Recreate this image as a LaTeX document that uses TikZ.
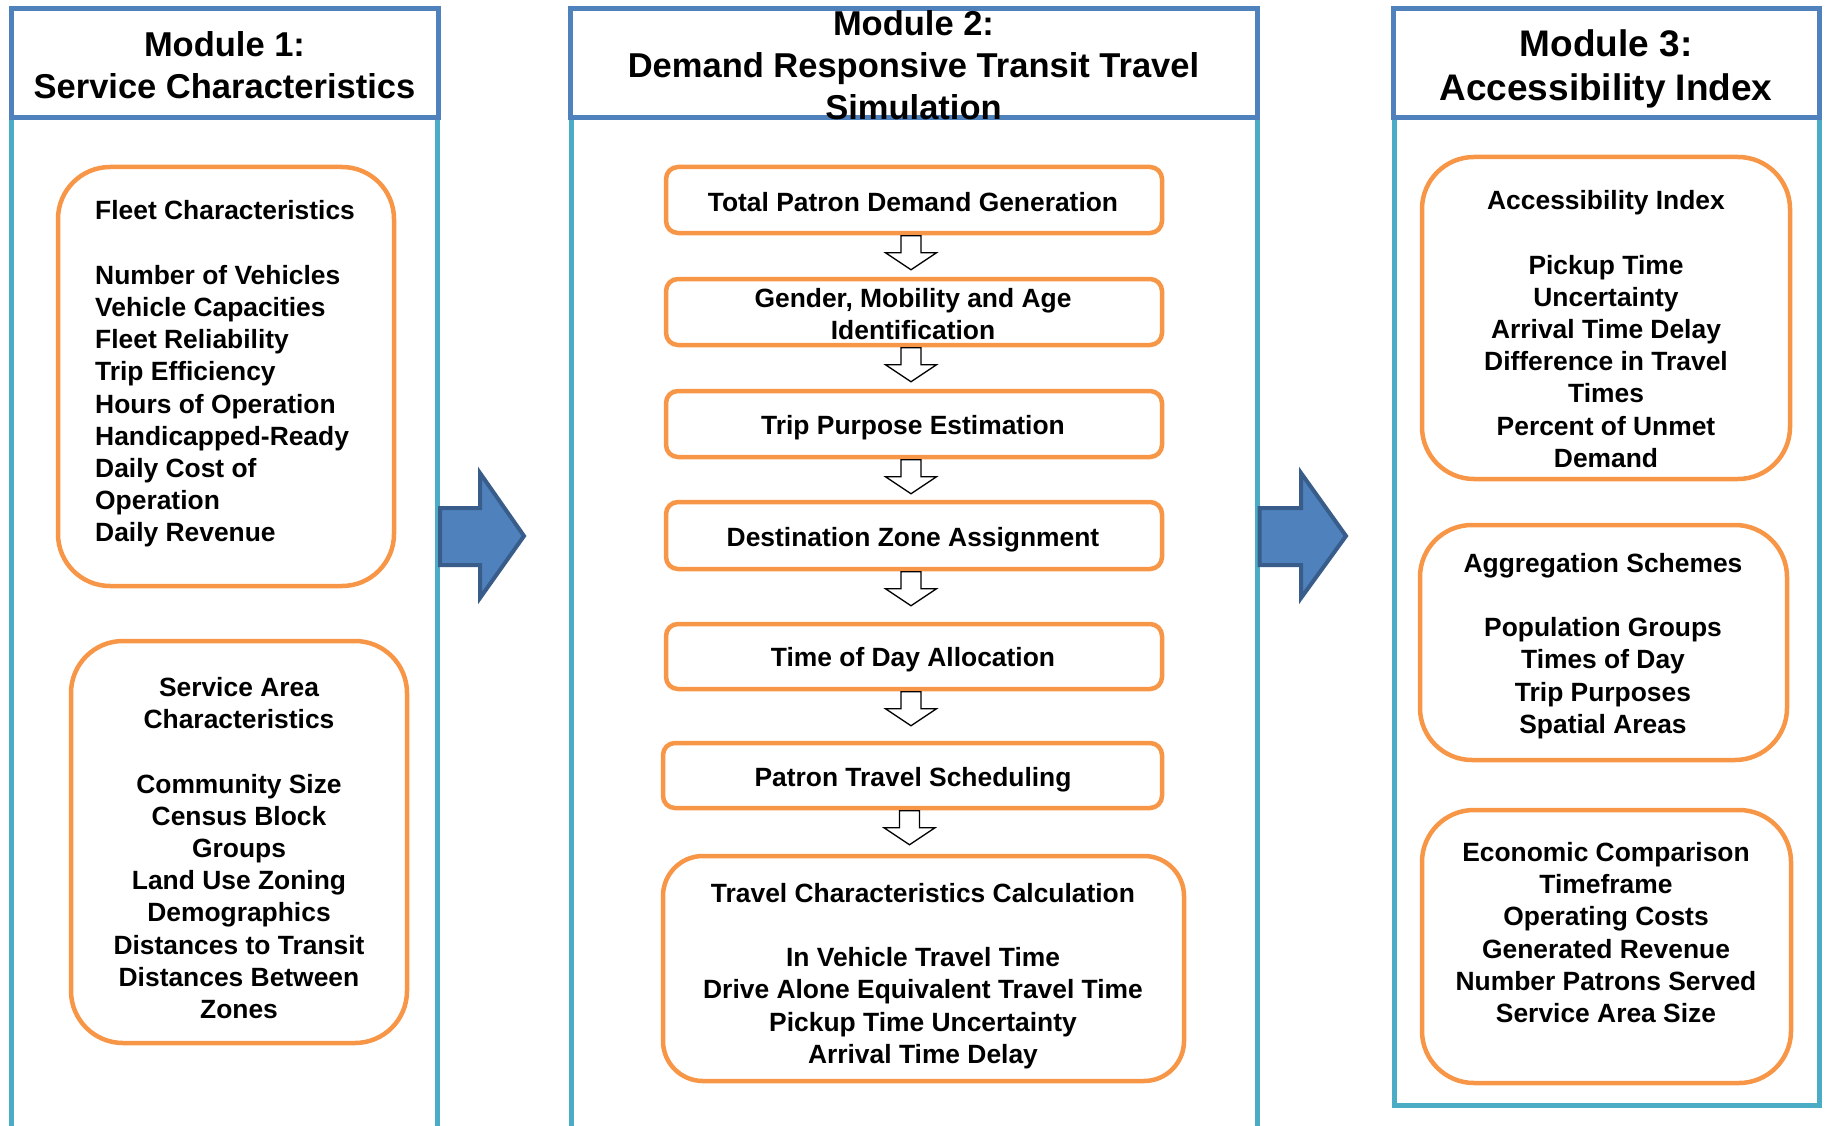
\documentclass[tikz,border=0pt]{standalone}
\usepackage{fontspec}
\setmainfont{Liberation Sans}
\usetikzlibrary{calc}
\definecolor{hdrblue}{HTML}{4F81BD}
\definecolor{panelteal}{HTML}{4BACC6}
\definecolor{boxorange}{HTML}{F79646}
\definecolor{arrfill}{HTML}{4F81BD}
\definecolor{arrdraw}{HTML}{385D8A}
\newcommand\blockdown[1]{\draw[smallarr] ($(#1.south)+(-13,0.5)$) -- ++(20,0) -- ++(0,17) -- ++(15.5,0) -- ++(-25.5,17) -- ++(-25.5,-17) -- ++(15.5,0) -- cycle;}
\begin{document}
\begin{tikzpicture}[x=1pt,y=-1pt,
  panel/.style={draw=panelteal, line width=5pt, rectangle, inner sep=0pt},
  hdr/.style={draw=hdrblue, line width=5pt, fill=white, rectangle, inner sep=0pt},
  hdrtxt/.style={inner sep=0pt, align=center, font=\fontsize{34.5}{42}\selectfont\bfseries},
  obox/.style={draw=boxorange, line width=4.5pt, rounded corners=#1, rectangle, inner sep=0pt},
  txt/.style={inner sep=0pt, align=center, font=\fontsize{26.4}{32.2}\selectfont\bfseries},
  smallarr/.style={draw=black, fill=white, line width=1.3pt, line join=miter},
  bigarr/.style={draw=arrdraw, fill=arrfill, line width=4pt, line join=miter}
]
\useasboundingbox (0,0) rectangle (1828,1126);

% panels
\node[panel, minimum width=426pt, minimum height=1010pt] (p1) at (224.5,623) {};
\node[panel, minimum width=686pt, minimum height=1010pt] (p2) at (914,623) {};
\node[panel, minimum width=425pt, minimum height=987pt] (p3) at (1606.5,611.5) {};

% headers
\node[hdr, minimum width=427pt, minimum height=109pt] (h1) at (224.5,63.5) {};
\node[hdr, minimum width=687pt, minimum height=109pt] (h2) at (913.5,63.5) {};
\node[hdr, minimum width=426pt, minimum height=109pt] (h3) at (1606,63.5) {};
\node[hdrtxt] (h1t) at (224.5,65) {Module 1:\\Service Characteristics};
\node[hdrtxt] (h2t) at (913.5,65) {Module 2:\\Demand Responsive Transit Travel\\Simulation};
\node[hdrtxt, font=\fontsize{37}{44}\selectfont\bfseries] (h3t) at (1606,69) {Module 3:\\Accessibility Index};

% module 1 boxes
\node[obox=52pt, minimum width=336pt, minimum height=419pt] (fleet) at (226,376.5) {};
\node[txt, align=left, anchor=west] (fleett) at (95,374) {Fleet Characteristics\\[32.2pt]Number of Vehicles\\Vehicle Capacities\\Fleet Reliability\\Trip Efficiency\\Hours of Operation\\Handicapped-Ready\\Daily Cost of\\Operation\\Daily Revenue};
\node[obox=52pt, minimum width=336pt, minimum height=402pt] (svc) at (239,842) {};
\node[txt] (svct) at (239,848) {Service Area\\Characteristics\\[32.2pt]Community Size\\Census Block\\Groups\\Land Use Zoning\\Demographics\\Distances to Transit\\Distances Between\\Zones};

% module 2 boxes
\node[obox=12pt, minimum width=496pt, minimum height=66pt] (b1) at (914,200) {};
\node[obox=12pt, minimum width=496pt, minimum height=66pt] (b2) at (914,312) {};
\node[obox=12pt, minimum width=496pt, minimum height=66pt] (b3) at (914,424) {};
\node[obox=12pt, minimum width=496pt, minimum height=67pt] (b4) at (914,535.5) {};
\node[obox=12pt, minimum width=496pt, minimum height=65pt] (b5) at (914,656.5) {};
\node[obox=12pt, minimum width=499pt, minimum height=65pt] (b6) at (912.5,775.5) {};
\node[obox=40pt, minimum width=521pt, minimum height=225pt] (b7) at (923.5,968.5) {};
\node[txt] (b1t) at (913,202.5) {Total Patron Demand Generation};
\node[txt] (b2t) at (913,314) {Gender, Mobility and Age\\Identification};
\node[txt] (b3t) at (913,427.5) {Trip Purpose Estimation};
\node[txt] (b4t) at (913,539.5) {Destination Zone Assignment};
\node[txt] (b5t) at (913,659.5) {Time of Day Allocation};
\node[txt] (b6t) at (913,779.5) {Patron Travel Scheduling};
\node[txt] (b7t) at (923,976) {Travel Characteristics Calculation\\[32.2pt]In Vehicle Travel Time\\Drive Alone Equivalent Travel Time\\Pickup Time Uncertainty\\Arrival Time Delay};

\blockdown{b1}
\blockdown{b2}
\blockdown{b3}
\blockdown{b4}
\blockdown{b5}
\blockdown{b6}

% module 3 boxes
\node[obox=52pt, minimum width=368pt, minimum height=322pt] (acc) at (1606,318) {};
\node[txt] (acct) at (1606,329) {Accessibility Index\\[32.2pt]Pickup Time\\Uncertainty\\Arrival Time Delay\\Difference in Travel\\Times\\Percent of Unmet\\Demand};
\node[obox=52pt, minimum width=367pt, minimum height=235pt] (agg) at (1603.5,642.5) {};
\node[txt] (aggt) at (1603,646) {Aggregation Schemes\\[32.2pt]Population Groups\\Times of Day\\Trip Purposes\\Spatial Areas};
\node[obox=52pt, minimum width=369pt, minimum height=273pt] (econ) at (1606.5,946.5) {};
\node[txt] (econt) at (1606,932.5) {Economic Comparison\\Timeframe\\Operating Costs\\Generated Revenue\\Number Patrons Served\\Service Area Size};

% big arrows
\path (0,508) coordinate (ys) (0,565) coordinate (ye);
\draw[bigarr] (p1.east |- ys) -- (480,508) -- (480,473) -- (524,536) -- (480,598) -- (480,565) -- (p1.east |- ye) -- cycle;
\draw[bigarr] (p2.east |- ys) -- (1301,508) -- (1301,473) -- (1346,536) -- (1301,598) -- (1301,565) -- (p2.east |- ye) -- cycle;
\end{tikzpicture}
\end{document}
